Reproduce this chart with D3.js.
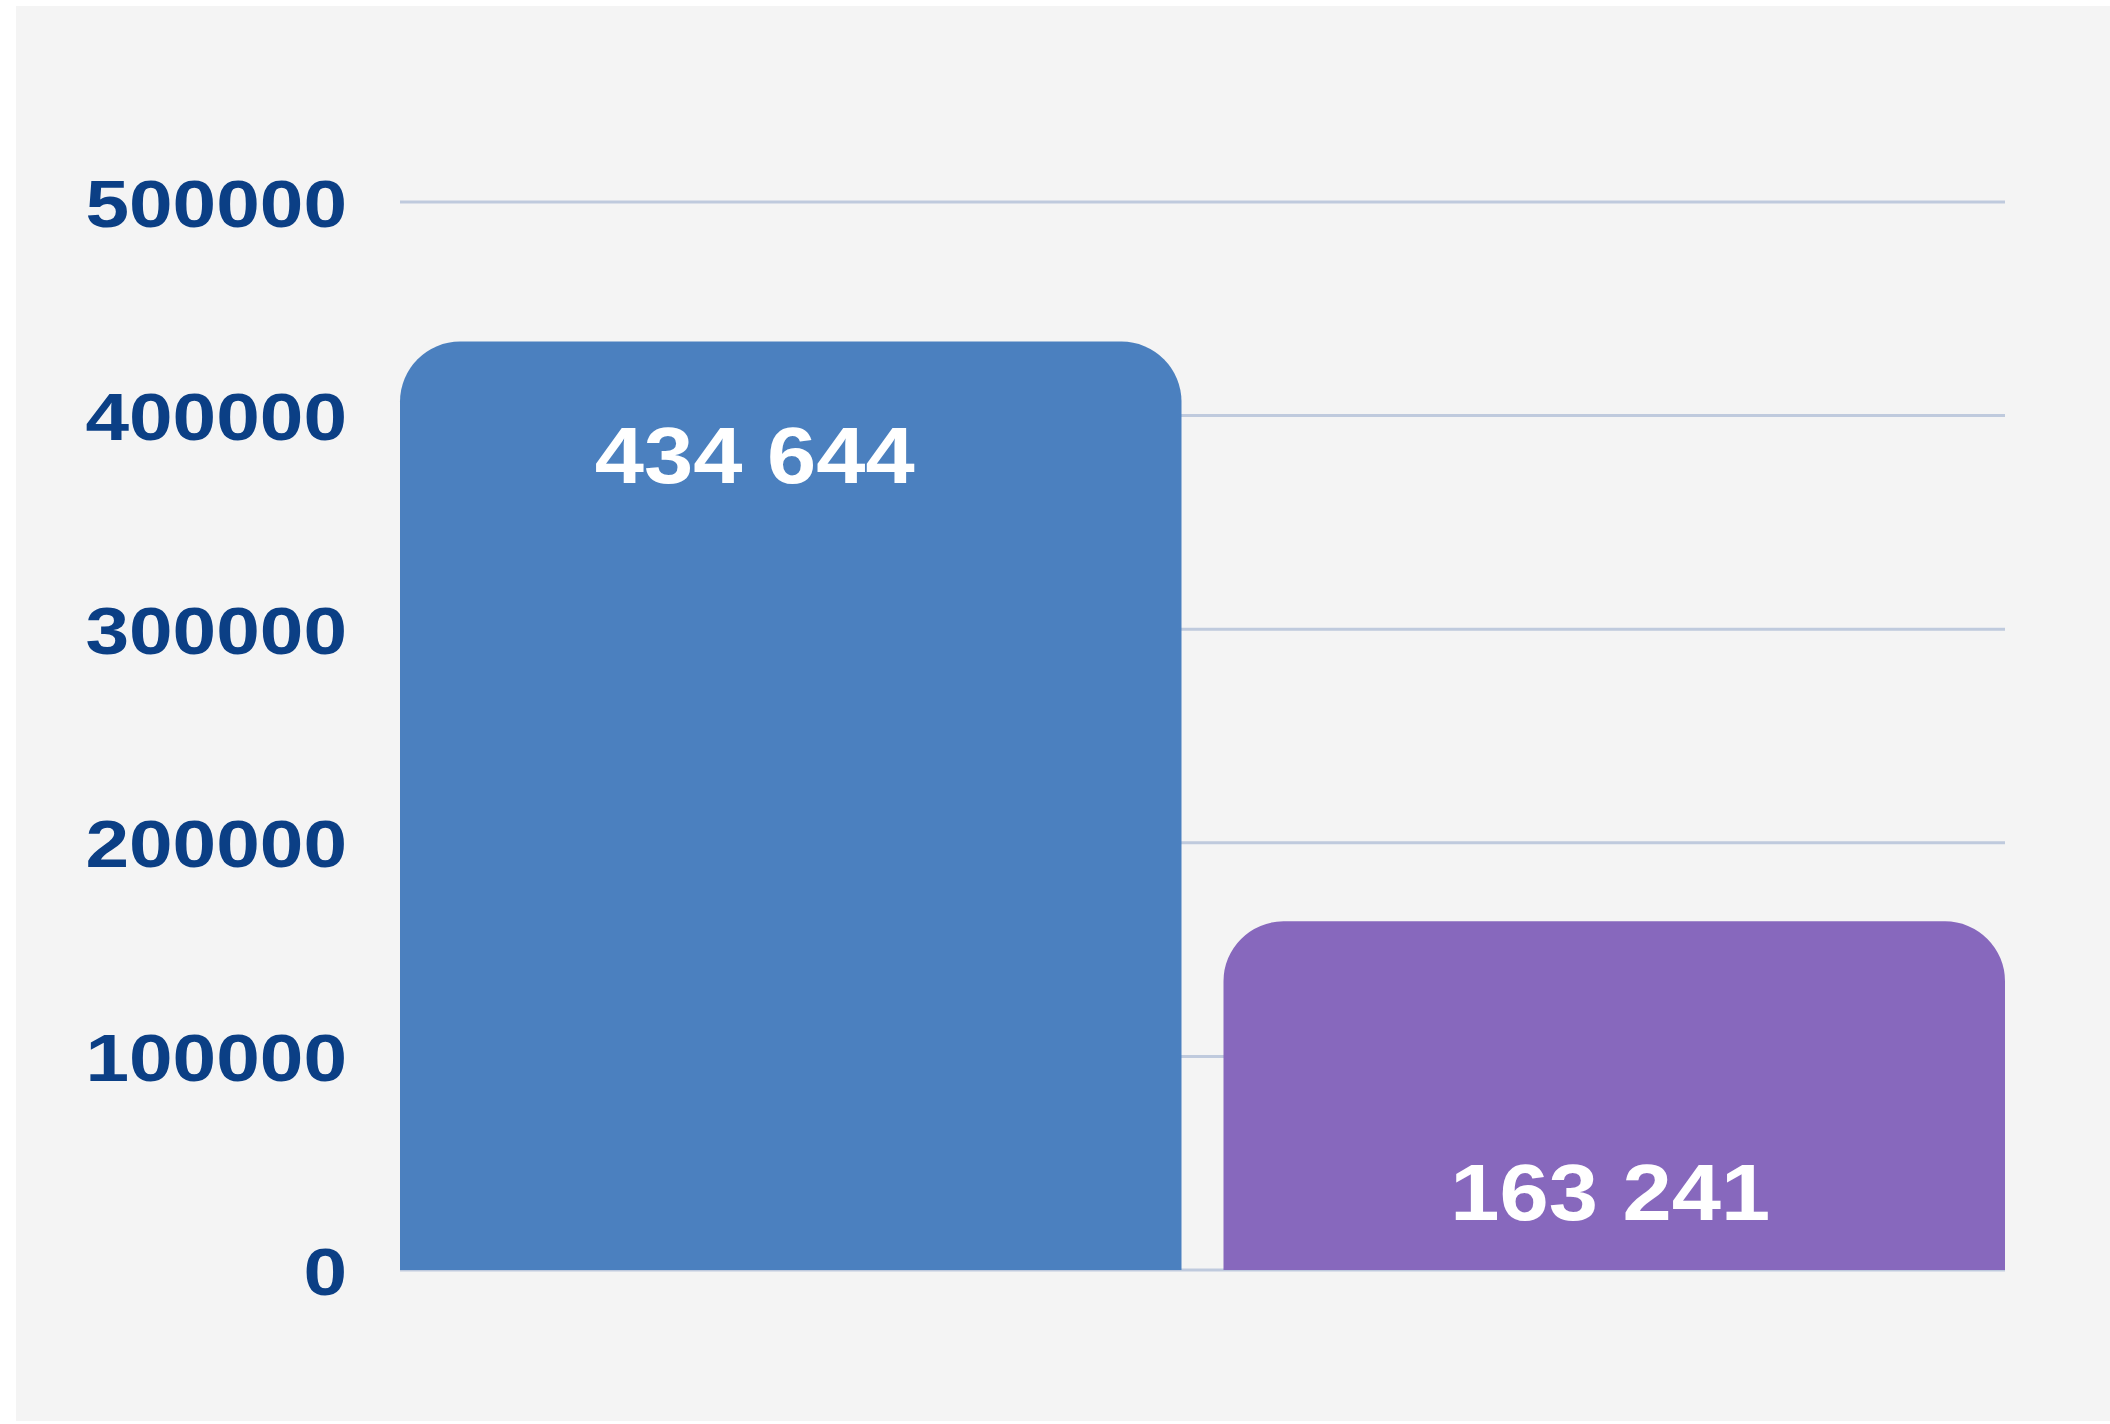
<!DOCTYPE html>
<html>
<head>
<meta charset="utf-8">
<script src="https://cdn.jsdelivr.net/npm/d3@7"></script>
<style>
  html, body { margin: 0; padding: 0; background: #ffffff; }
  svg { display: block; }
</style>
</head>
<body>
<svg id="chart" width="2110" height="1424"></svg>
<script>
// chart data
const categories = ['A', 'B'];
const values = [434644, 163241];
const valueLabels = ['434 644', '163 241'];
const barColors = ['#4b80bf', '#8768bd'];
const tickValues = [0, 100000, 200000, 300000, 400000, 500000];

let svg = d3.select('#chart'),
    width = +svg.attr('width'),
    height = +svg.attr('height');

const font = '"Liberation Sans", Arial, Helvetica, sans-serif';

// light panel behind the chart
svg.append('rect')
    .attr('x', 16)
    .attr('y', 6)
    .attr('width', width - 16)
    .attr('height', 1415)
    .attr('fill', '#f4f4f4');

let x = d3.scaleBand()
    .domain(categories)
    .range([400, 2005])
    .paddingInner(0.051)
    .paddingOuter(0);

let y = d3.scaleLinear()
    .domain([0, 500000])
    .range([1270, 202]);

// gridlines
svg.append('g')
    .selectAll('line')
    .data(tickValues)
    .enter()
    .append('line')
    .attr('x1', 400)
    .attr('x2', 2005)
    .attr('y1', d => y(d))
    .attr('y2', d => y(d))
    .attr('stroke', '#bfcadd')
    .attr('stroke-width', 3);

// y axis labels (text is a bit stretched sideways, like the original)
let yAxis = svg.append('g')
    .attr('transform', 'translate(347,0) scale(1.17,1)')
    .call(d3.axisLeft(y).tickValues(tickValues).tickFormat(d3.format('d')).tickSize(0).tickPadding(0));
yAxis.select('.domain').remove();
yAxis.selectAll('text')
    .attr('fill', '#0b3f85')
    .attr('dy', '0.36em')
    .style('font-family', font)
    .style('font-weight', 700)
    .style('font-size', '67px');

// bars with rounded top corners
const r = 60;
function barPath(d, i) {
    let x0 = x(categories[i]),
        x1 = x0 + x.bandwidth(),
        yt = y(d),
        yb = y(0);
    return 'M' + x0 + ',' + yb +
        'V' + (yt + r) +
        'A' + r + ',' + r + ' 0 0 1 ' + (x0 + r) + ',' + yt +
        'H' + (x1 - r) +
        'A' + r + ',' + r + ' 0 0 1 ' + x1 + ',' + (yt + r) +
        'V' + yb + 'Z';
}

svg.append('g')
    .selectAll('path')
    .data(values)
    .enter()
    .append('path')
    .attr('d', barPath)
    .attr('fill', (d, i) => barColors[i]);

// value labels: first one sits near the top, second near the base
svg.append('g')
    .selectAll('g')
    .data(values)
    .enter()
    .append('g')
    .attr('transform', (d, i) => {
        let cx = x(categories[i]) + x.bandwidth() / 2 + (i === 0 ? -36 : -4),
            cy = i === 0 ? y(d) + 141 : y(0) - 50;
        return 'translate(' + cx + ',' + cy + ') scale(1.12,1)';
    })
    .append('text')
    .attr('text-anchor', 'middle')
    .attr('fill', '#ffffff')
    .style('font-family', font)
    .style('font-weight', 700)
    .style('font-size', '79px')
    .text((d, i) => valueLabels[i]);
</script>
</body>
</html>
